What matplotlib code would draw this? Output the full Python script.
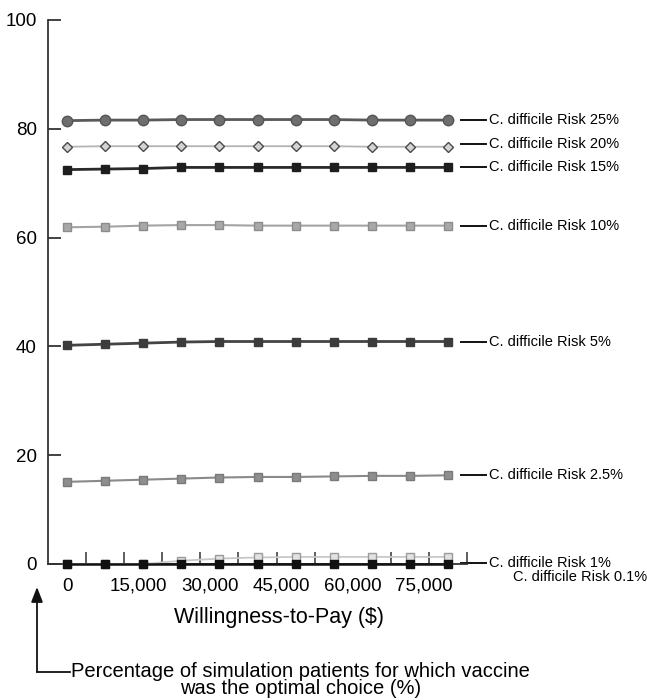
import matplotlib as mpl
mpl.use('Agg')
import matplotlib.pyplot as plt
from matplotlib.lines import Line2D
from matplotlib import ticker

plt.rcParams['font.family'] = ['Liberation Sans', 'DejaVu Sans']

# willingness-to-pay grid ($)
wtp = [0, 8000, 16000, 24000, 32000, 40000, 48000, 56000, 64000, 72000, 80000]
xtick_vals = [0, 15000, 30000, 45000, 60000, 75000]

# percentage of patients for which vaccine was optimal, by C. difficile risk
risk_labels = ['25%', '20%', '15%', '10%', '5%', '2.5%', '1%', '0.1%']
pct_25 = [81.5, 81.6, 81.6, 81.7, 81.7, 81.7, 81.7, 81.7, 81.6, 81.6, 81.6]
pct_20 = [76.7, 76.8, 76.8, 76.8, 76.8, 76.8, 76.8, 76.8, 76.7, 76.7, 76.7]
pct_15 = [72.5, 72.6, 72.7, 72.9, 72.9, 72.9, 72.9, 72.9, 72.9, 72.9, 72.9]
pct_10 = [61.9, 62.0, 62.2, 62.3, 62.3, 62.2, 62.2, 62.2, 62.2, 62.2, 62.2]
pct_5 = [40.2, 40.4, 40.6, 40.8, 40.9, 40.9, 40.9, 40.9, 40.9, 40.9, 40.9]
pct_2_5 = [15.1, 15.3, 15.5, 15.7, 15.9, 16.0, 16.0, 16.1, 16.2, 16.2, 16.3]
pct_1 = [0.0, 0.0, 0.0, 0.6, 1.0, 1.2, 1.3, 1.3, 1.3, 1.3, 1.3]
pct_0_1 = [0.0, 0.0, 0.0, 0.0, 0.0, 0.0, 0.0, 0.0, 0.0, 0.0, 0.0]

series = [pct_25, pct_20, pct_15, pct_10, pct_5, pct_2_5, pct_1, pct_0_1]

# (marker, face, edge, line colour, line width, marker size)
styles = [
    ('o', '#6e6e6e', '#555555', '#5a5a5a', 2.0, 7.5),
    ('D', '#d4d4d4', '#4a4a4a', '#b4b4b4', 1.3, 5.5),
    ('s', '#1e1e1e', '#1e1e1e', '#2a2a2a', 2.0, 5.5),
    ('s', '#a8a8a8', '#8c8c8c', '#a4a4a4', 1.5, 5.5),
    ('s', '#3c3c3c', '#3c3c3c', '#444444', 2.0, 6.0),
    ('s', '#8e8e8e', '#7a7a7a', '#8a8a8a', 1.5, 5.5),
    ('s', '#e2e2e2', '#9a9a9a', '#c8c8c8', 1.3, 5.5),
    ('s', '#111111', '#111111', '#111111', 1.8, 6.0),
]

# label offsets from the last point (data units); leader line drawn or not
label_dy = [0.0, 0.5, 0.0, 0.0, 0.0, 0.0, -1.1, -2.4]
has_leader = [True, True, True, True, True, True, True, False]

fig = plt.figure(figsize=(6.47, 7.0), dpi=100)
ax = fig.add_axes([48 / 647, 1 - 564 / 700, 419 / 647, 544 / 700])

for vals, (mk, fc, ec, lc, lw, ms) in zip(series, styles):
    ax.plot(wtp, vals, '-', marker=mk, color=lc, lw=lw, markerfacecolor=fc,
            markeredgecolor=ec, markersize=ms, markeredgewidth=1.0, clip_on=False, zorder=3)

ax.set_xlim(-4000, 84000)
ax.set_ylim(0, 100)

for side in ['top', 'right']:
    ax.spines[side].set_visible(False)
for side in ['left', 'bottom']:
    ax.spines[side].set_color('#333333')
    ax.spines[side].set_linewidth(1.3)

ax.set_yticks([0, 20, 40, 60, 80, 100])
ax.tick_params(axis='y', direction='in', length=9, width=1.3, color='#333333',
               labelsize=13.5, pad=8)

# labelled dollar values without marks, short marks between grid points
ax.set_xticks(xtick_vals)
ax.xaxis.set_major_formatter(ticker.FuncFormatter(lambda v, p: '{:,.0f}'.format(v)))
ax.tick_params(axis='x', which='major', length=0, labelsize=13.5, pad=10)
ax.set_xticks([4000 + 8000 * k for k in range(11)], minor=True)
ax.tick_params(axis='x', which='minor', direction='in', length=9, width=1.1, color='#333333')

ax.set_xlabel('Willingness-to-Pay ($)', fontsize=15.5)
ax.xaxis.set_label_coords(0.552, -0.098)
ax.xaxis.label.set_va('center')

# series labels at the right-hand end
trans = ax.get_yaxis_transform()
for lab, vals, dy, lead in zip(risk_labels, series, label_dy, has_leader):
    y = vals[-1] + dy
    if lead:
        ax.add_line(Line2D([0.985, 1.045], [y, y], transform=trans, color='#111111',
                           lw=1.4, clip_on=False))
        ax.text(1.052, y, 'C. difficile Risk ' + lab, transform=trans, fontsize=10.5,
                ha='left', va='center')
    else:
        ax.text(1.110, y, 'C. difficile Risk ' + lab, transform=trans, fontsize=10.5,
                ha='left', va='center')

# y-axis caption with elbow arrow below the chart
fx0 = 37 / 647
ax.annotate('', xy=(fx0, 1 - 587 / 700), xytext=(fx0, 1 - 672 / 700),
            xycoords='figure fraction', textcoords='figure fraction',
            arrowprops=dict(arrowstyle='-|>,head_length=0.9,head_width=0.35',
                            color='#111111', lw=1.3, shrinkA=0, shrinkB=0))
fig.add_artist(Line2D([fx0, 70 / 647], [1 - 672 / 700, 1 - 672 / 700],
                      transform=fig.transFigure, color='#111111', lw=1.3))
fig.text(71 / 647, 1 - 662 / 700,
         'Percentage of simulation patients for which vaccine\nwas the optimal choice (%)',
         fontsize=14.5, ha='left', va='top', multialignment='center',
         linespacing=0.88)

fig.savefig('out.png', dpi=100)
